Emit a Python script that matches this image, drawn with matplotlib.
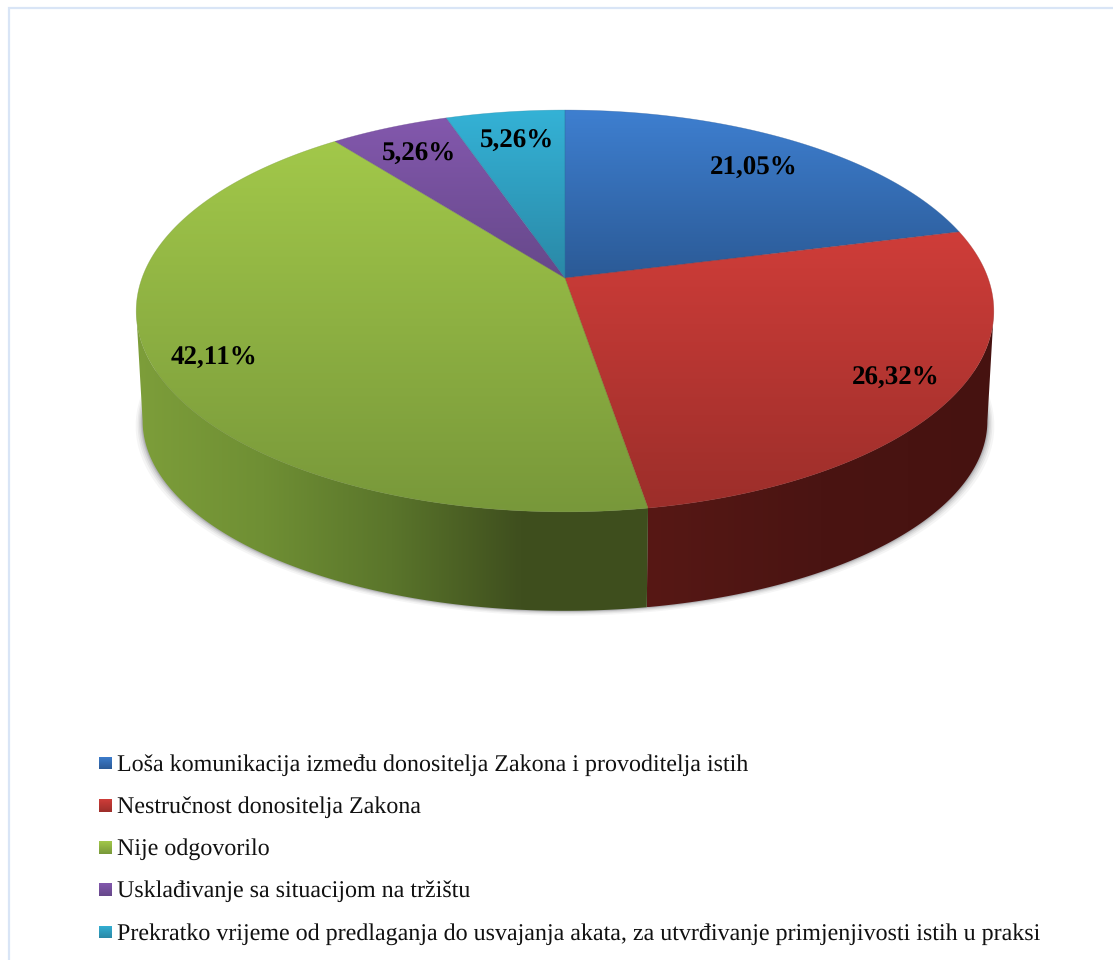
import numpy as np
import matplotlib
matplotlib.use("Agg")
import matplotlib.pyplot as plt
from matplotlib.colors import to_rgb
from matplotlib.patches import Polygon

# chart data
categories = [
    "Loša komunikacija između donositelja Zakona i provoditelja istih",
    "Nestručnost donositelja Zakona",
    "Nije odgovorilo",
    "Usklađivanje sa situacijom na tržištu",
    "Prekratko vrijeme od predlaganja do usvajanja akata, za utvrđivanje primjenjivosti istih u praksi",
]
values = [21.05, 26.32, 42.11, 5.26, 5.26]

# top gradients of the slices (upper colour, lower colour)
top_colors = [("#3e7fd0", "#2b5a96"), ("#cf3d39", "#9c2e2a"), ("#a2c84a", "#78983a"),
              ("#8358ad", "#66488a"), ("#34b2d6", "#2a88a6")]
label_pos = [(754, 168), (896, 378), (214, 358), (419, 154), (517, 141)]

plt.rcParams["font.family"] = ["Liberation Serif", "DejaVu Serif"]
plt.rcParams["text.hinting"] = "none"
plt.rcParams["text.hinting_factor"] = 1

fig = plt.figure(figsize=(11.13, 9.60), dpi=100)
ax = fig.add_axes([0, 0, 1, 1])
ax.set_xlim(0, 1113)
ax.set_ylim(960, 0)
ax.axis("off")

# perspective of the disc
cx, cy = 565, 278
kx, ky, p = 423, 195.5, 0.164
drop, shrink_x, shrink_y = 110, 0.985, 0.945


def disc_point(theta, lower=False):
    d = 1 + p * np.cos(theta)
    x = kx * np.sin(theta) / d
    y = -ky * np.cos(theta) / d
    if lower:
        return cx + x * shrink_x, cy + 33 + drop + (y - 33) * shrink_y
    return cx + x, cy + y


def gradient(colors, clip_xy, box, horizontal=False, zorder=2):
    # paint a gradient through the colours, clipped to a polygon
    rgb = np.array([to_rgb(c) for c in colors])
    pos = np.linspace(0, 1, len(colors))
    t = np.linspace(0, 1, 256)
    img = np.stack([np.interp(t, pos, rgb[:, i]) for i in range(3)], axis=1)
    img = img[None, :, :] if horizontal else img[:, None, :]
    im = ax.imshow(img, extent=(box[0], box[1], box[3], box[2]), aspect="auto",
                   origin="upper", zorder=zorder, interpolation="bilinear")
    clip = Polygon(clip_xy, closed=True, transform=ax.transData)
    im.set_clip_path(clip)
    return im


# frame of the chart area
ax.plot([9, 9, 1113], [960, 7.5, 7.5], color="#d9e5f6", lw=1.6, zorder=1, solid_joinstyle="miter")

edges = np.radians(np.concatenate([[0], np.cumsum(values)]) * 3.6 * 100 / np.sum(values))

# soft shadow under the disc
th = np.linspace(0, 2 * np.pi, 400)
bx, by = disc_point(th, lower=True)
for grow, alpha in zip([7, 5, 3.5, 2, 1], [0.05, 0.07, 0.09, 0.12, 0.16]):
    sx = cx + (bx - cx) * (1 + grow / 425)
    sy = by + grow * 0.7
    ax.fill(sx, sy, color="#40404a", alpha=alpha, lw=0, zorder=1.5)

# side wall, only red and green can be seen; it ends where the rim is widest
widest = np.arccos(-p)
wall_colors = {1: ["#571815", "#4a1412", "#461210"],
               2: ["#7d9e3a", "#6f8f34", "#5a752b", "#3f4f1e", "#3e4e1d"]}
wall_limits = {1: (widest, edges[2]), 2: (edges[2], 2 * np.pi - widest)}
for i, (a, b) in wall_limits.items():
    t = np.linspace(a, b, 200)
    x1, y1 = disc_point(t)
    x2, y2 = disc_point(t, lower=True)
    poly = np.r_[np.c_[x1, y1], np.c_[x2, y2][::-1]]
    box = (poly[:, 0].min(), poly[:, 0].max(), poly[:, 1].min(), poly[:, 1].max())
    gradient(wall_colors[i], poly, box, horizontal=True, zorder=2)

# top of the slices
for i in range(len(values)):
    t = np.linspace(edges[i], edges[i + 1], 200)
    x, y = disc_point(t)
    poly = np.r_[[[cx, cy]], np.c_[x, y]]
    box = (poly[:, 0].min(), poly[:, 0].max(), poly[:, 1].min(), poly[:, 1].max())
    gradient(top_colors[i], poly, box, zorder=3)
    ax.add_patch(Polygon(poly, closed=True, fill=False, ec=top_colors[i][1], lw=0.4, alpha=0.5, zorder=3.1))

# percentage labels
for v, (lx, ly) in zip(values, label_pos):
    ax.text(lx, ly, f"{v:.2f}%".replace(".", ","), fontsize=19.6, fontweight="bold",
            ha="center", va="center", color="black", zorder=5)

# legend
for i, name in enumerate(categories):
    yc = 763 + i * 42.25
    sq = [(99, yc - 6.5), (112, yc - 6.5), (112, yc + 6.5), (99, yc + 6.5)]
    gradient(top_colors[i], sq, (99, 112, yc - 6.5, yc + 6.5), zorder=3)
    ax.text(117, yc + 7.5, name, fontsize=17.3, color="#111111", ha="left", va="baseline", zorder=5)

ax.set_xlim(0, 1113)
ax.set_ylim(960, 0)
fig.savefig("out.png", dpi=100, facecolor="white")
